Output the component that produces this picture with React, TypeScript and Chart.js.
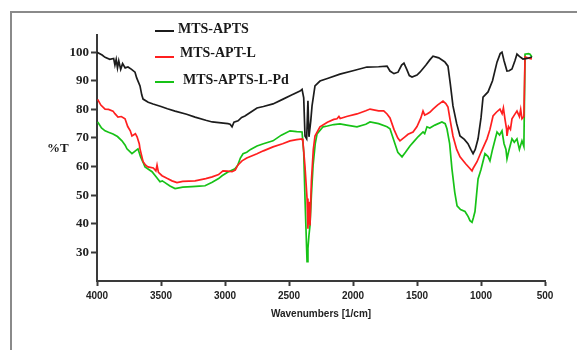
import React, { useEffect, useRef } from "react";
import { Chart, registerables } from "chart.js";

Chart.register(...registerables);

const seriesNames = ["MTS-APTS", "MTS-APT-L", "MTS-APTS-L-Pd"];
const seriesColors = ["#1c1c1c", "#ff1f1f", "#17c217"];

const blackWn = [4000, 3960, 3937, 3900, 3870, 3860, 3850, 3840, 3830, 3815, 3800, 3780, 3758, 3730, 3703, 3690, 3664, 3650, 3640, 3600, 3562, 3500, 3450, 3390, 3300, 3234, 3150, 3100, 3030, 2977, 2960, 2945, 2930, 2898, 2870, 2844, 2800, 2750, 2700, 2625, 2550, 2480, 2414, 2398, 2385, 2375, 2362, 2352, 2344, 2330, 2320, 2297, 2258, 2200, 2102, 2000, 1891, 1800, 1734, 1711, 1680, 1648, 1620, 1602, 1580, 1560, 1539, 1500, 1477, 1430, 1400, 1375, 1330, 1290, 1281, 1258, 1240, 1219, 1190, 1164, 1130, 1102, 1080, 1062, 1045, 1023, 1000, 984, 945, 910, 875, 850, 836, 820, 797, 780, 758, 735, 719, 700, 672, 640, 602];
const blackT = [100, 99, 98.2, 97.5, 97.8, 95.5, 97.5, 94.5, 97, 94, 96, 94.5, 94.8, 94, 93, 91, 88.2, 85, 83.6, 82.5, 81.9, 81, 80.2, 79.4, 78.3, 77.3, 76.2, 75.6, 75.3, 75, 74.8, 73.9, 75.5, 76, 77.2, 77.7, 79, 80.5, 81, 81.9, 83.5, 85, 86.4, 87, 84, 70.7, 69.7, 83, 70.4, 76, 81.2, 88.2, 89.9, 90.8, 92.3, 93.5, 94.8, 94.9, 95.1, 93.4, 92.5, 93, 95.5, 96.2, 94, 91.8, 91.3, 92, 93, 95.5, 97.3, 98.6, 98, 96.8, 96.5, 95.1, 89, 81.2, 75, 70.7, 69.5, 68, 66, 64.5, 66, 69.7, 77, 84.3, 86.1, 90, 96.5, 99.5, 100, 97, 93.4, 93.5, 94.1, 97, 99.3, 98.5, 97.6, 97.8, 98.3];

const redWn = [3995, 3970, 3937, 3910, 3875, 3860, 3836, 3810, 3781, 3760, 3740, 3727, 3700, 3687, 3670, 3664, 3640, 3620, 3602, 3560, 3540, 3531, 3520, 3492, 3450, 3414, 3375, 3330, 3234, 3150, 3100, 3050, 3016, 2980, 2945, 2920, 2900, 2867, 2830, 2750, 2700, 2625, 2550, 2492, 2440, 2398, 2391, 2375, 2359, 2352, 2344, 2336, 2325, 2310, 2297, 2258, 2200, 2150, 2125, 2110, 2100, 2050, 1969, 1900, 1867, 1800, 1760, 1734, 1711, 1680, 1650, 1633, 1594, 1570, 1531, 1500, 1470, 1453, 1440, 1422, 1400, 1375, 1340, 1297, 1275, 1258, 1240, 1219, 1190, 1164, 1120, 1090, 1070, 1060, 1031, 1000, 953, 930, 906, 880, 852, 835, 825, 813, 800, 797, 785, 770, 758, 740, 719, 700, 690, 680, 665, 656, 630, 602];
const redT = [83.5, 81.5, 80.1, 80, 79.4, 78.5, 77.3, 77.5, 76.7, 74, 72.5, 70.7, 71.5, 70.4, 68, 66.2, 61.7, 60.5, 59.9, 59.5, 58.5, 60.5, 58, 56.8, 55.8, 55, 54.4, 54.8, 55, 55.8, 56.4, 57.2, 58.5, 58.4, 58.2, 58.8, 60.5, 62, 63, 64.5, 65.5, 66.9, 68, 69, 69.4, 69.7, 68.6, 60, 48.8, 38.3, 47.7, 39.4, 55, 66, 70.7, 73.9, 75.5, 76.5, 76.7, 77.5, 76.8, 77.5, 78.4, 79.5, 80.1, 79.5, 79.5, 78.4, 77, 73, 70, 69, 70.4, 71.3, 72.1, 74, 77, 79.4, 78, 78.4, 79, 80.1, 81.5, 82.9, 82, 80.8, 76, 70.7, 66, 63.4, 61, 59.5, 58.5, 59.5, 61.7, 65, 69.7, 73, 77.7, 79, 80.1, 78.5, 80.5, 76.7, 73, 70.7, 74, 73, 76.7, 78, 79.4, 77.5, 80, 76.7, 77.5, 98.3, 97.9, 97.6];

const greenWn = [3995, 3965, 3937, 3910, 3875, 3840, 3805, 3780, 3766, 3727, 3700, 3680, 3660, 3640, 3625, 3570, 3540, 3508, 3490, 3469, 3430, 3390, 3330, 3258, 3200, 3156, 3100, 3050, 3023, 2980, 2922, 2900, 2880, 2859, 2830, 2800, 2750, 2700, 2625, 2560, 2492, 2440, 2398, 2385, 2375, 2365, 2359, 2352, 2344, 2336, 2325, 2312, 2295, 2281, 2234, 2200, 2150, 2102, 2050, 1969, 1900, 1867, 1800, 1734, 1711, 1680, 1650, 1617, 1590, 1555, 1520, 1490, 1453, 1440, 1422, 1400, 1360, 1305, 1280, 1266, 1245, 1227, 1205, 1187, 1160, 1125, 1100, 1086, 1070, 1060, 1047, 1035, 1023, 1000, 969, 945, 930, 910, 875, 855, 836, 820, 805, 797, 780, 758, 740, 719, 700, 680, 665, 656, 630, 617, 602];
const greenT = [75.6, 73.5, 72.5, 72, 71.4, 70.5, 69, 67.5, 66.2, 64.5, 65.5, 66.2, 63.5, 61.5, 59.9, 58.2, 56.5, 54.7, 55, 54.4, 53.2, 52.3, 52.8, 53, 53.2, 53.3, 54.5, 55.8, 56.8, 58, 59.2, 60.5, 63, 64.5, 65, 66, 67.2, 68, 69, 71, 72.5, 72.2, 72.1, 65, 48.8, 35, 26.8, 31.4, 36, 39.4, 50, 60.3, 68, 71.4, 73.9, 74.2, 74.7, 74.9, 74.5, 73.9, 74.8, 75.6, 75, 73.9, 73.2, 69, 65, 63.4, 65, 67.2, 69, 70.5, 72.1, 71.5, 73.9, 73.5, 74.5, 75.6, 75, 73.2, 68, 59.2, 51, 46.3, 45, 44.3, 42.5, 41.1, 40.5, 42, 44.3, 50, 55.7, 59, 64.5, 63.5, 62, 66, 72.1, 71, 72.5, 68, 66, 62.7, 66, 69.7, 68.5, 69.7, 66, 69, 67, 99.3, 99.5, 99.3, 98.3];

const xTicks = [4000, 3500, 3000, 2500, 2000, 1500, 1000, 500];
const yTicks = [30, 40, 50, 60, 70, 80, 90, 100];

const xTitle = "Wavenumbers [1/cm]";
const yTitle = "%T";

const pairs = (xs: number[], ys: number[]) => xs.map((x, i) => ({ x, y: ys[i] }));

const overlayPlugin = {
  id: "overlay",
  afterDraw(chart: any) {
    const ctx = chart.ctx as CanvasRenderingContext2D;
    ctx.save();
    const rows = [
      { lineY: 31, textY: 29, textX: 178 },
      { lineY: 57, textY: 53, textX: 180 },
      { lineY: 82, textY: 80, textX: 183 },
    ];
    ctx.font = 'bold 14px "Liberation Serif", "Times New Roman", serif';
    ctx.textBaseline = "middle";
    ctx.textAlign = "left";
    rows.forEach((r, i) => {
      ctx.strokeStyle = seriesColors[i];
      ctx.lineWidth = 2;
      ctx.beginPath();
      ctx.moveTo(155, r.lineY);
      ctx.lineTo(174, r.lineY);
      ctx.stroke();
      ctx.fillStyle = "#1a1a1a";
      ctx.fillText(seriesNames[i], r.textX, r.textY);
    });
    ctx.font = 'bold 13px "Liberation Serif", "Times New Roman", serif';
    ctx.fillText(yTitle, 47, 149);
    ctx.restore();
  },
};

export default function App() {
  const canvasRef = useRef<HTMLCanvasElement | null>(null);

  useEffect(() => {
    if (!canvasRef.current) return;
    const datasets = [
      { label: seriesNames[0], data: pairs(blackWn, blackT), borderColor: seriesColors[0] },
      { label: seriesNames[1], data: pairs(redWn, redT), borderColor: seriesColors[1] },
      { label: seriesNames[2], data: pairs(greenWn, greenT), borderColor: seriesColors[2] },
    ].map((d) => ({ ...d, borderWidth: 1.7, pointRadius: 0, fill: false, tension: 0 }));

    const chart = new Chart(canvasRef.current, {
      type: "line",
      data: { datasets },
      plugins: [overlayPlugin],
      options: {
        animation: false,
        responsive: false,
        devicePixelRatio: 1,
        layout: { padding: { left: 0, top: 35, right: 32, bottom: 0 } },
        plugins: { legend: { display: false }, tooltip: { enabled: false } },
        scales: {
          x: {
            type: "linear",
            reverse: true,
            min: 500,
            max: 4000,
            afterBuildTicks: (scale: any) => {
              scale.ticks = xTicks.map((v) => ({ value: v }));
            },
            afterFit: (scale: any) => {
              scale.height = 69;
            },
            border: { display: true, color: "#3a3a3a", width: 2 },
            grid: { display: true, drawOnChartArea: false, drawTicks: true, tickLength: 5, tickWidth: 2, tickColor: "#3a3a3a" },
            ticks: {
              padding: 4,
              color: "#222",
              maxRotation: 0,
              autoSkip: false,
              callback: (v: any) => String(v),
              font: { family: '"Liberation Sans", Arial, sans-serif', weight: "bold", size: 10 },
            },
            title: {
              display: true,
              text: xTitle,
              color: "#222",
              font: { family: '"Liberation Sans", Arial, sans-serif', weight: "bold", size: 10 },
              padding: { top: 0, bottom: 30 },
            },
          },
          y: {
            min: 20,
            max: 106,
            afterBuildTicks: (scale: any) => {
              scale.ticks = yTicks.map((v) => ({ value: v }));
            },
            afterFit: (scale: any) => {
              scale.width = 97;
            },
            border: { display: true, color: "#3a3a3a", width: 2 },
            grid: { display: true, drawOnChartArea: false, drawTicks: true, tickLength: 6, tickWidth: 2, tickColor: "#3a3a3a" },
            ticks: {
              padding: 2,
              color: "#222",
              autoSkip: false,
              callback: (v: any) => String(v),
              font: { family: '"Liberation Serif", "Times New Roman", serif', weight: "bold", size: 13 },
            },
          },
        },
      },
    } as any);
    return () => chart.destroy();
  }, []);

  return (
    <div style={{ position: "fixed", left: 0, top: 0, width: 577, height: 350, background: "#fff", overflow: "hidden" }}>
      <div
        style={{
          position: "absolute",
          left: 10,
          top: 11,
          width: 620,
          height: 400,
          borderLeft: "2px solid #8a8a8a",
          borderTop: "2px solid #8a8a8a",
        }}
      />
      <canvas ref={canvasRef} width={577} height={350} style={{ position: "absolute", left: 0, top: 0 }} />
    </div>
  );
}
